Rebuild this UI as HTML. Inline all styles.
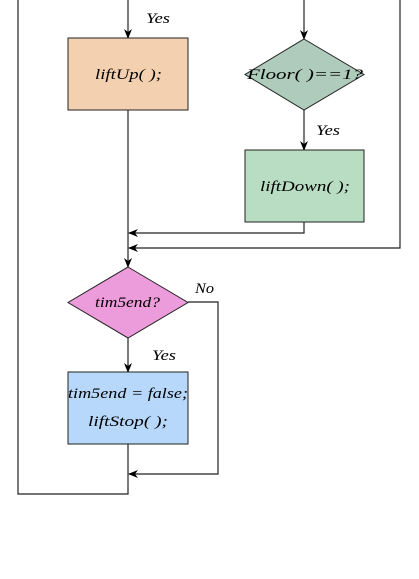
<!DOCTYPE html>
<html><head><meta charset="utf-8"><style>
html,body{margin:0;padding:0;background:#fff;}
svg{display:block;}
text{font-family:"Liberation Serif",serif;font-style:italic;font-size:15px;fill:#000;}
</style></head><body>
<svg width="419" height="579" viewBox="0 0 419 579" xmlns="http://www.w3.org/2000/svg">
<defs>
<marker id="a" markerWidth="10" markerHeight="10" refX="9" refY="5" orient="auto" markerUnits="userSpaceOnUse">
<path d="M0,1 L10,5 L0,9 L3,5 Z" fill="#000"/>
</marker>
</defs>
<g stroke="#222" stroke-width="1.2" fill="none">
<path d="M18,0 V494 H128 V444"/>
<path d="M128,0 V38" marker-end="url(#a)"/>
<path d="M304,0 V39" marker-end="url(#a)"/>
<path d="M304,110 V150" marker-end="url(#a)"/>
<path d="M304,222 V233 H129" marker-end="url(#a)"/>
<path d="M400,0 V248 H129" marker-end="url(#a)"/>
<path d="M128,110 V267" marker-end="url(#a)"/>
<path d="M128,338 V372" marker-end="url(#a)"/>
<path d="M188,302 H218 V474 H129" marker-end="url(#a)"/>
</g>
<rect x="68" y="38" width="120" height="72" fill="#f3d1b0" stroke="#222" stroke-width="1"/>
<polygon points="304,39 364,74.5 304,110 245,74.5" fill="#aecbbb" stroke="#222" stroke-width="1"/>
<rect x="245" y="150" width="119" height="72" fill="#b8ddc2" stroke="#222" stroke-width="1"/>
<polygon points="128,267 188,302.5 128,338 68,302.5" fill="#ed9cdb" stroke="#222" stroke-width="1"/>
<rect x="68" y="372" width="120" height="72" fill="#b7d8fa" stroke="#222" stroke-width="1"/>
<text x="146" y="23" textLength="24" lengthAdjust="spacingAndGlyphs">Yes</text>
<text x="95" y="79" textLength="67" lengthAdjust="spacingAndGlyphs">liftUp( );</text>
<text x="247" y="79" textLength="116" lengthAdjust="spacingAndGlyphs">Floor( )==1?</text>
<text x="316" y="135" textLength="24" lengthAdjust="spacingAndGlyphs">Yes</text>
<text x="260" y="191" textLength="90" lengthAdjust="spacingAndGlyphs">liftDown( );</text>
<text x="195" y="293" textLength="19" lengthAdjust="spacingAndGlyphs">No</text>
<text x="95" y="307" textLength="65" lengthAdjust="spacingAndGlyphs">tim5end?</text>
<text x="152" y="360" textLength="24" lengthAdjust="spacingAndGlyphs">Yes</text>
<text x="68" y="398" textLength="120" lengthAdjust="spacingAndGlyphs">tim5end = false;</text>
<text x="88" y="426" textLength="80" lengthAdjust="spacingAndGlyphs">liftStop( );</text>
</svg>
</body></html>
